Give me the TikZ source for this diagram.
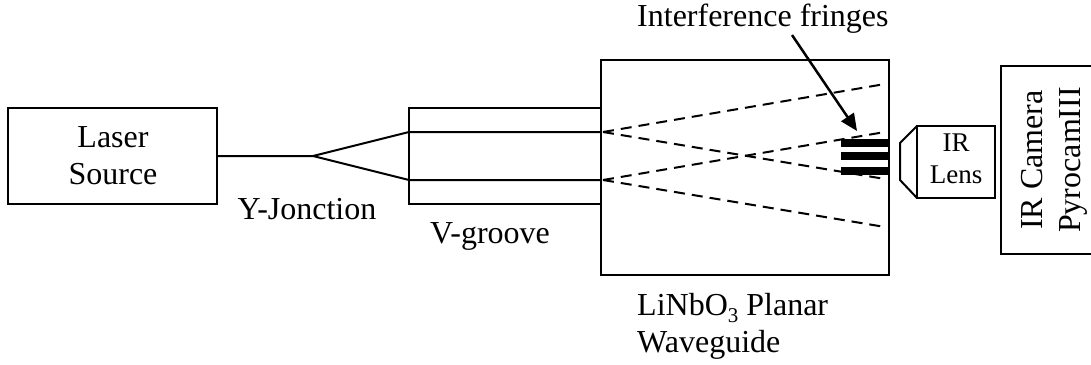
\documentclass[tikz,border=0pt]{standalone}
\usepackage{fontspec}
\setmainfont{Liberation Serif}
\usetikzlibrary{arrows.meta}
\newcommand{\subthree}{\raisebox{-0.22em}{\fontsize{21}{21}\selectfont 3}}
\tikzset{
  x=1pt,y=-1pt,
  box/.style={draw,line width=2pt,anchor=north west,inner sep=0pt,outer sep=0pt},
  wire/.style={line width=2pt},
  ray/.style={line width=2pt,dash pattern=on 11pt off 7pt},
  bar/.style={fill=black,draw=none,anchor=north west,inner sep=0pt,outer sep=0pt},
  lab/.style={font=\fontsize{32}{37}\selectfont,align=center,inner sep=0pt},
  lbl/.style={lab,align=left},
}
\begin{document}
\begin{tikzpicture}
\useasboundingbox (0,0) rectangle (1091,364);
\clip (0,0) rectangle (1091,364);
\node[box,minimum width=209pt,minimum height=96pt] (laser) at (8,108) {};
\node[lab] (lasertxt) at (113,156) {Laser\\Source};
\node[box,minimum width=192pt,minimum height=96pt] (vg) at (409,108) {};
\node[box,minimum width=288pt,minimum height=215pt] (wg) at (601,60) {};
\node[box,minimum width=78pt,minimum height=72pt] (lens) at (917,126) {};
\node[box,minimum width=110pt,minimum height=188pt] (cam) at (1001,66) {};
\coordinate (y0) at (laser.east);
\coordinate (yj) at (313,156);
\coordinate (a1) at (409,132);
\coordinate (a2) at (409,180);
\coordinate (b1) at (601,132);
\coordinate (b2) at (601,180);
\coordinate (s1) at (603,132);
\coordinate (s2) at (603,180);
\draw[wire] (y0) -- (yj) -- (a1) -- (b1);
\draw[wire] (yj) -- (a2) -- (b2);
\coordinate (e1) at (885,84);
\coordinate (e2) at (885,179);
\coordinate (e3) at (885,132);
\coordinate (e4) at (885,227);
\draw[ray] (s1) -- (e1);
\draw[ray] (s1) -- (e2);
\draw[ray] (s2) -- (e3);
\draw[ray] (s2) -- (e4);
\node[bar,minimum width=48pt,minimum height=8pt] (f1) at (841,139) {};
\node[bar,minimum width=48pt,minimum height=8pt] (f2) at (841,152) {};
\node[bar,minimum width=48pt,minimum height=8pt] (f3) at (841,167) {};
\coordinate (l1) at (917,126);
\coordinate (l2) at (900,143);
\coordinate (l3) at (900,180);
\coordinate (l4) at (917,198);
\draw[wire] (l1) -- (l2) -- (l3) -- (l4);
\node[lab,anchor=base west] (title) at (637,27) {Interference fringes};
\coordinate (tip) at (857,131);
\coordinate (tail) at (792,35);
\draw[line width=2.5pt,-{Triangle[length=17pt,width=15pt]}] (tail) -- (tip);
\node[lab,font=\fontsize{27}{32}\selectfont] (lenstxt) at (956,158.5) {IR\\Lens};
\node[lab,rotate=90,font=\fontsize{32}{38}\selectfont] (camtxt) at (1054,160) {IR Camera\\PyrocamIII};
\node[lab,anchor=base] (ytxt) at (307,219) {Y-Jonction};
\node[lab,anchor=base] (vtxt) at (490,243) {V-groove};
\node[lbl,anchor=west] (wtxt) at (637,326) {LiNbO\subthree{} Planar\\Waveguide};
\end{tikzpicture}
\end{document}
